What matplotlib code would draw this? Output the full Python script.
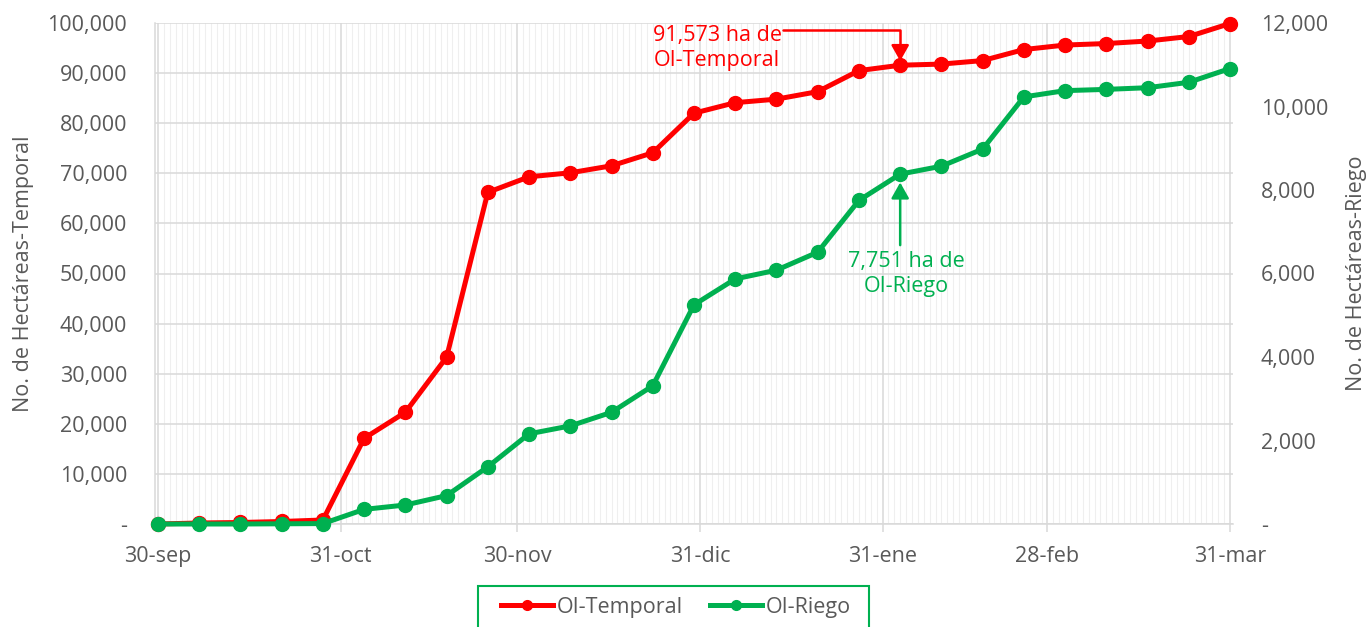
import numpy as np
import pandas as pd
import matplotlib
matplotlib.use("Agg")
import matplotlib.pyplot as plt
import matplotlib.dates as mdates
from matplotlib.ticker import FuncFormatter, FixedLocator, MultipleLocator
from matplotlib.patches import Rectangle

# weekly cut-off dates
fechas = ["2024-09-30", "2024-10-07", "2024-10-14", "2024-10-21", "2024-10-28",
          "2024-11-04", "2024-11-11", "2024-11-18", "2024-11-25", "2024-12-02",
          "2024-12-09", "2024-12-16", "2024-12-23", "2024-12-30", "2025-01-06",
          "2025-01-13", "2025-01-20", "2025-01-27", "2025-02-03", "2025-02-10",
          "2025-02-17", "2025-02-24", "2025-03-03", "2025-03-10", "2025-03-17",
          "2025-03-24", "2025-03-31"]

# hectares (left axis: temporal, right axis: riego)
temporal = [0, 200, 300, 500, 800, 17100, 22300, 33300, 66200, 69300,
            70100, 71500, 74100, 82000, 84100, 84800, 86300, 90500, 91573, 91800,
            92500, 94700, 95600, 95900, 96400, 97300, 99900]
riego = [0, 0, 0, 5, 10, 350, 455, 680, 1370, 2160,
         2350, 2675, 3310, 5250, 5870, 6080, 6510, 7751, 8380, 8570,
         8980, 10230, 10380, 10410, 10450, 10580, 10910]

# month-end ticks and their labels
fechas_mes = ["2024-09-30", "2024-10-31", "2024-11-30", "2024-12-31",
              "2025-01-31", "2025-02-28", "2025-03-31"]
etiquetas_mes = ["30-sep", "31-oct", "30-nov", "31-dic", "31-ene", "28-feb", "31-mar"]

ROJO = "#FF0000"
VERDE = "#00B050"
GRIS = "#595959"
REJILLA = "#D9D9D9"

plt.rcParams["font.family"] = ["Open Sans", "DejaVu Sans"]
plt.rcParams["font.size"] = 15.5

x = mdates.date2num(pd.to_datetime(fechas))
x_mes = mdates.date2num(pd.to_datetime(fechas_mes))

fig = plt.figure(figsize=(13.69, 6.27), dpi=100)
ax = fig.add_axes([155 / 1369, 1 - 524 / 627, 1078 / 1369, 501 / 627])
ax2 = ax.twinx()

ax.plot(x, temporal, color=ROJO, lw=3.6, marker="o", ms=10, clip_on=False,
        label="OI-Temporal", zorder=3)
ax2.plot(x, riego, color=VERDE, lw=3.6, marker="o", ms=10, clip_on=False,
         label="OI-Riego", zorder=3)

ax.set_xlim(x[0] - 0.5, x[-1] + 0.5)
ax.set_ylim(0, 100000)
ax2.set_ylim(0, 12000)

fmt = FuncFormatter(lambda v, p: "-" if v == 0 else f"{v:,.0f}")
ax.yaxis.set_major_locator(MultipleLocator(10000))
ax.yaxis.set_major_formatter(fmt)
ax2.yaxis.set_major_locator(MultipleLocator(2000))
ax2.yaxis.set_major_formatter(fmt)

ax.xaxis.set_major_locator(FixedLocator(x_mes))
ax.set_xticklabels(etiquetas_mes)
ax.xaxis.set_minor_locator(mdates.DayLocator())

ax.grid(axis="y", which="major", color=REJILLA, lw=1.1)
ax.grid(axis="x", which="major", color=REJILLA, lw=1.1)
ax.grid(axis="x", which="minor", color="#EFEFEF", lw=0.8)
ax.set_axisbelow(True)

for s in ["top", "right"]:
    ax.spines[s].set_visible(False)
for s in ["left", "bottom"]:
    ax.spines[s].set_color(REJILLA)
    ax.spines[s].set_linewidth(1.1)
for s in ax2.spines.values():
    s.set_visible(False)

ax.tick_params(axis="y", length=0, pad=20, colors=GRIS)
ax.tick_params(axis="x", which="major", length=6, width=1.1, color=REJILLA,
               pad=10, labelcolor=GRIS)
ax.tick_params(axis="x", which="minor", length=0)
ax2.tick_params(axis="y", length=0, pad=20, colors=GRIS)

ax.set_ylabel("No. de Hectáreas-Temporal", color=GRIS)
ax.yaxis.set_label_coords(-0.112, 0.5)
ax2.set_ylabel("No. de Hectáreas-Riego", color=GRIS)
ax2.yaxis.set_label_coords(1.105, 0.5)

# callouts
i = 18
ax.annotate("", xy=(x[i], temporal[i]), xytext=(-117, 35), textcoords="offset pixels",
            arrowprops=dict(arrowstyle="-|>,head_length=0.8,head_width=0.45",
                            connectionstyle="angle,angleA=0,angleB=90,rad=0",
                            color=ROJO, lw=1.8, shrinkA=0, shrinkB=3,
                            mutation_scale=12))
ax.annotate("91,573 ha de\nOI-Temporal", xy=(x[i], temporal[i]), xytext=(-183, 17),
            textcoords="offset pixels", ha="center", va="center", color=ROJO,
            linespacing=1.25)

ax2.annotate("", xy=(x[i], riego[i]), xytext=(0, -71), textcoords="offset pixels",
             arrowprops=dict(arrowstyle="-|>,head_length=0.8,head_width=0.45",
                             color=VERDE, lw=1.8, shrinkA=0, shrinkB=6,
                             mutation_scale=12))
ax2.annotate("7,751 ha de\nOI-Riego", xy=(x[i], riego[i]), xytext=(6, -100),
             textcoords="offset pixels", ha="center", va="center", color=VERDE,
             linespacing=1.25)

# legend with its box
h1, l1 = ax.get_legend_handles_labels()
h2, l2 = ax2.get_legend_handles_labels()
fig.legend(h1 + h2, l1 + l2, loc="center", ncol=2, frameon=False,
           bbox_to_anchor=(676 / 1369, 1 - 607 / 627), markerscale=0.7,
           handlelength=2.4, handletextpad=0.15, columnspacing=1.3,
           labelcolor=GRIS)
fig.patches.append(Rectangle((478 / 1369, -0.05), (869 - 478) / 1369, 0.05 + 41.3 / 627,
                             transform=fig.transFigure, fill=False,
                             edgecolor=VERDE, lw=1.5))

fig.savefig("out.png", dpi=100)
